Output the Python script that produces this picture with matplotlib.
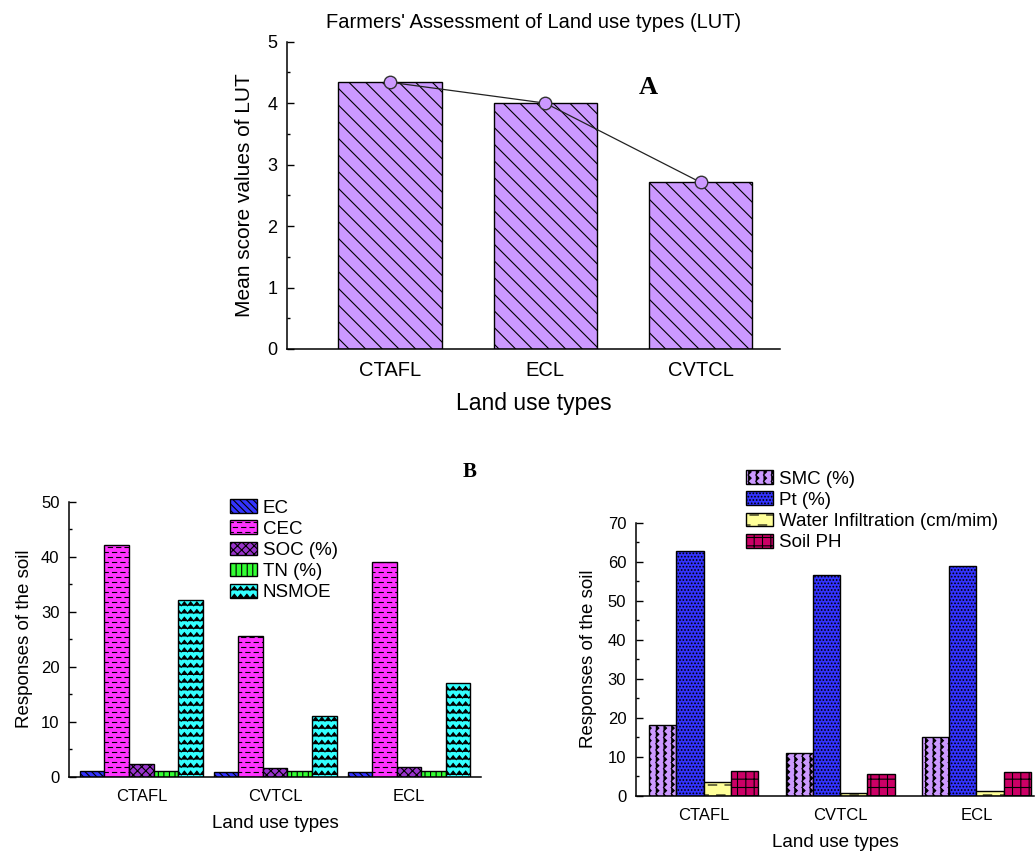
import warnings
import numpy as np
import matplotlib
matplotlib.use("Agg")
import matplotlib.pyplot as plt
import matplotlib.hatch as mhatch
from matplotlib.path import Path
from matplotlib.ticker import MultipleLocator

warnings.filterwarnings("ignore")

# --- data ---------------------------------------------------------------
lut_a = ["CTAFL", "ECL", "CVTCL"]
score_a = [4.34, 4.0, 2.71]

lut_b = ["CTAFL", "CVTCL", "ECL"]
ec = [1.1, 0.8, 0.8]
cec = [42.1, 25.5, 39.0]
soc = [2.3, 1.6, 1.8]
tn = [1.1, 1.1, 1.1]
nsmoe = [32.2, 11.0, 17.1]

smc = [18.0, 10.9, 15.0]
pt = [62.8, 56.7, 59.0]
water_inf = [3.4, 0.7, 1.3]
soil_ph = [6.3, 5.6, 6.0]


# extra hatches: 'z' zigzag rows, 'n' zigzag columns, 'd' staggered dashes
class ZigZagHatch(mhatch.HatchPatternBase):
    def __init__(self, hatch, density):
        self.vertical = "n" in hatch
        if "z" in hatch:
            self.lines, self.teeth, self.amp = 13, 16, 0.5
        elif "n" in hatch:
            self.lines, self.teeth, self.amp = 13, 16, 0.4
        else:
            self.lines, self.teeth, self.amp = 0, 0, 0
        self.num_vertices = self.lines * (2 * self.teeth + 1)

    def set_vertices_and_codes(self, vertices, codes):
        npts = 2 * self.teeth + 1
        t = np.linspace(0, 1, npts)
        off = np.where(np.arange(npts) % 2 == 1, self.amp / max(self.lines, 1), 0.0)
        k = 0
        for i in range(self.lines):
            base = (i + 0.25) / self.lines
            if self.vertical:
                vertices[k:k + npts, 0] = base + off
                vertices[k:k + npts, 1] = t
            else:
                vertices[k:k + npts, 0] = t
                vertices[k:k + npts, 1] = base + off
            codes[k] = Path.MOVETO
            codes[k + 1:k + npts] = Path.LINETO
            k += npts


class DashHatch(mhatch.HatchPatternBase):
    def __init__(self, hatch, density):
        n = hatch.count("d")
        self.rows = 10 * n if n else 0
        self.per_row = 6 * n
        self.num_vertices = self.rows * self.per_row * 2

    def set_vertices_and_codes(self, vertices, codes):
        k = 0
        step = 1.0 / self.per_row
        for i in range(self.rows):
            y = (i + 0.5) / self.rows
            shift = 0.5 * step if i % 2 else 0.0
            for j in range(self.per_row):
                x0 = j * step + shift
                vertices[k] = (x0, y)
                vertices[k + 1] = (x0 + 0.5 * step, y)
                codes[k] = Path.MOVETO
                codes[k + 1] = Path.LINETO
                k += 2


mhatch._hatch_types.extend([ZigZagHatch, DashHatch])

plt.rcParams["font.family"] = ["Liberation Sans", "DejaVu Sans"]
plt.rcParams["hatch.linewidth"] = 0.8
plt.rcParams["axes.linewidth"] = 1.1

fig = plt.figure(figsize=(10.36, 8.52), dpi=100)


def style_axis(ax, major, minor, xsize, ysize):
    ax.spines[["top", "right"]].set_visible(False)
    ax.yaxis.set_major_locator(MultipleLocator(major))
    ax.yaxis.set_minor_locator(MultipleLocator(minor))
    ax.tick_params(axis="y", which="major", direction="in", length=5,
                   width=1, labelsize=ysize, pad=7)
    ax.tick_params(axis="y", which="minor", direction="in", length=2.5, width=1)
    ax.tick_params(axis="x", length=0, labelsize=xsize, pad=9)


# ---- panel A -----------------------------------------------------------
axA = fig.add_axes([0.2773, 0.5904, 0.4756, 0.3607])
xa = np.arange(len(lut_a))
axA.bar(xa, score_a, 0.665, color="#cc99ff", edgecolor="black",
        linewidth=1.0, hatch="\\\\")
axA.plot(xa, score_a, color="#222222", lw=0.9, marker="o", ms=9,
         mfc="#cc99ff", mec="#333333", mew=1.0)
axA.set_xlim(-0.66, 2.51)
axA.set_ylim(0, 5)
axA.set_xticks(xa, lut_a)
style_axis(axA, 1, 0.5, 14.5, 13)
axA.set_ylabel("Mean score values of LUT", fontsize=15, labelpad=10)
axA.set_xlabel("Land use types", fontsize=16.5, labelpad=8)
axA.set_title("Farmers' Assessment of Land use types (LUT)", fontsize=14.5,
              pad=10)
fig.text(0.6255, 0.897, "A", fontsize=19, fontweight="bold",
         family="Liberation Serif", ha="center", va="center")
fig.text(0.4537, 0.446, "B", fontsize=15, fontweight="bold",
         family="Liberation Serif", ha="center", va="center")

# ---- panel B left ------------------------------------------------------
axB1 = fig.add_axes([0.0669, 0.0884, 0.3974, 0.3228])
xb = np.arange(len(lut_b))
series1 = [
    ("EC", ec, "#3333ff", "\\\\\\\\\\"),
    ("CEC", cec, "#ff33ff", "dd"),
    ("SOC (%)", soc, "#9933cc", "xxxx"),
    ("TN (%)", tn, "#33ff33", "|||"),
    ("NSMOE", nsmoe, "#33ffff", "z"),
]
w1 = 0.1834
for i, (name, vals, col, hat) in enumerate(series1):
    axB1.bar(xb + (i - 2) * w1, vals, w1, color=col, edgecolor="black",
             linewidth=1.0, hatch=hat, label=name)
axB1.set_xlim(-0.538, 2.538)
axB1.set_ylim(0, 50)
axB1.set_xticks(xb, lut_b)
style_axis(axB1, 10, 5, 12, 12)
axB1.set_ylabel("Responses of the soil", fontsize=13.5, labelpad=6)
axB1.set_xlabel("Land use types", fontsize=13.5, labelpad=8)
axB1.legend(loc="upper left", bbox_to_anchor=(0.222, 0.414),
            bbox_transform=fig.transFigure, frameon=False, fontsize=13.5,
            handlelength=1.45, handleheight=0.75, handletextpad=0.3,
            labelspacing=0.2, borderpad=0, borderaxespad=0)

# ---- panel B right -----------------------------------------------------
axB2 = fig.add_axes([0.6139, 0.0661, 0.3842, 0.3204])
series2 = [
    ("SMC (%)", smc, "#cc99ff", "n"),
    ("Pt (%)", pt, "#3333ff", "....."),
    ("Water Infiltration (cm/mim)", water_inf, "#ffff99", "d"),
    ("Soil PH", soil_ph, "#cc0066", "++"),
]
w2 = 0.2
for i, (name, vals, col, hat) in enumerate(series2):
    axB2.bar(xb + (i - 1.5) * w2, vals, w2, color=col, edgecolor="black",
             linewidth=1.0, hatch=hat, label=name)
axB2.set_xlim(-0.497, 2.423)
axB2.set_ylim(0, 70)
axB2.set_xticks(xb, lut_b)
style_axis(axB2, 10, 5, 12, 12)
axB2.set_ylabel("Responses of the soil", fontsize=13.5, labelpad=8)
axB2.set_xlabel("Land use types", fontsize=13.5, labelpad=8)
axB2.legend(loc="upper left", bbox_to_anchor=(0.72, 0.448),
            bbox_transform=fig.transFigure, frameon=False, fontsize=13.5,
            handlelength=1.45, handleheight=0.75, handletextpad=0.3,
            labelspacing=0.2, borderpad=0, borderaxespad=0)

fig.savefig("out.png", dpi=100)
